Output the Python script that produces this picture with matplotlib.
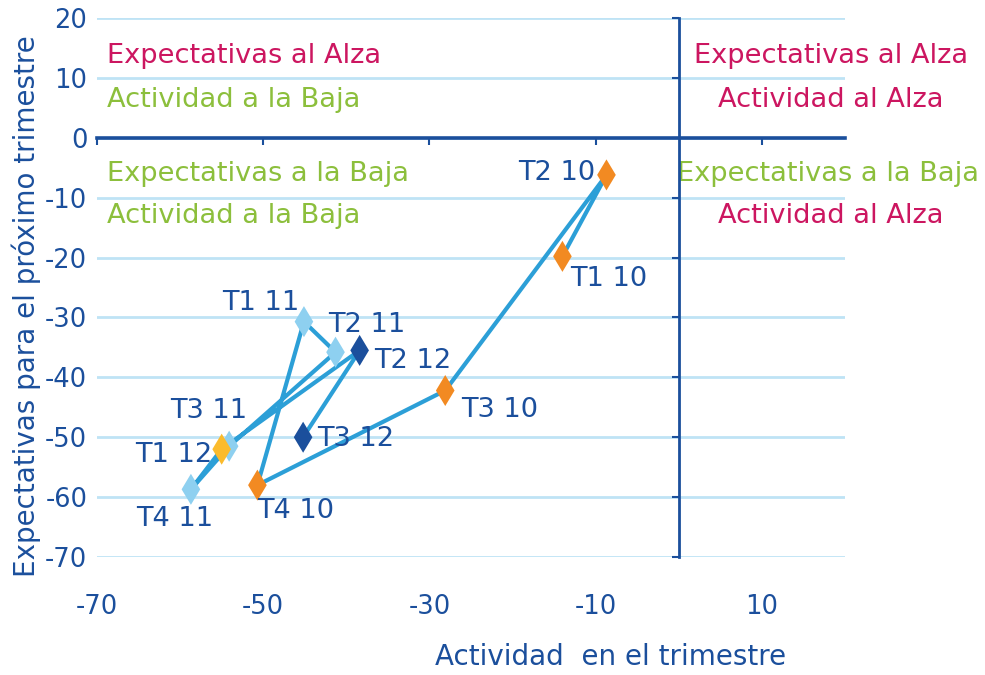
import matplotlib.pyplot as plt

plt.rcParams["font.family"] = ["DejaVu Sans"]
plt.rcParams["axes.unicode_minus"] = False

# datos
trimestres = ["T1 10", "T2 10", "T3 10", "T4 10", "T1 11", "T2 11",
              "T3 11", "T4 11", "T1 12", "T2 12", "T3 12"]
actividad = [-14.0, -8.7, -28.1, -50.7, -45.1, -41.3, -54.1, -58.7, -55.0, -38.4, -45.2]
expectativas = [-19.8, -6.2, -42.2, -58.0, -30.7, -35.8, -51.5, -58.7, -52.0, -35.5, -50.0]

x_ticks = [-70, -50, -30, -10, 10]
y_ticks = [20, 10, 0, -10, -20, -30, -40, -50, -60, -70]

# estilos
azul = "#1b4f9c"
linea = "#2c9fd7"
magenta = "#cc1660"
verde = "#8cbf3c"
col_punto = ["#f28a22"] * 4 + ["#8ed0f0"] * 4 + ["#fbbb2c", azul, azul]
# desplazamiento de etiquetas (pixeles) y alineacion
desp = [(8, -23, "left"), (-11, 2, "right"), (16, -19, "left"), (0, -26, "left"),
        (-5, 19, "right"), (-7, 27, "left"), (18, 35, "right"), (22, -30, "right"),
        (-9, -6, "right"), (14, -11, "left"), (14, -2, "left")]
fs = 19.6

fig = plt.figure(figsize=(9.85, 6.75), dpi=100)
pos = [97 / 985, 1 - 557 / 675, 748 / 985, 539 / 675]
ax = fig.add_axes(pos)
ax.set_xlim(-70, 20)
ax.set_ylim(-70, 20)

for s in ax.spines.values():
    s.set_visible(False)
ax.set_xticks(x_ticks)
ax.set_yticks(y_ticks)
ax.tick_params(axis="both", length=0, labelsize=18.5, colors=azul)
ax.tick_params(axis="x", pad=27)
ax.tick_params(axis="y", pad=7)
ax.yaxis.grid(True, color="#bfe3f5", lw=2)
ax.set_axisbelow(True)

# ejes cruzando en cero
ax2 = fig.add_axes(pos, sharex=ax, sharey=ax)
ax2.patch.set_visible(False)
ax2.spines["top"].set_visible(False)
ax2.spines["right"].set_visible(False)
ax2.spines["left"].set_position(("data", 0))
ax2.spines["bottom"].set_position(("data", 0))
ax2.spines["left"].set_color(azul)
ax2.spines["bottom"].set_color(azul)
ax2.spines["left"].set_linewidth(2)
ax2.spines["bottom"].set_linewidth(2.6)
ax2.tick_params(axis="both", direction="out", length=5, width=1.5, color=azul,
                labelleft=False, labelbottom=False)

ax.plot(actividad, expectativas, color=linea, lw=3, zorder=3)
ax.scatter(actividad, expectativas, marker="d", s=250, c=col_punto, zorder=4, linewidths=0)

for t, xv, yv, (dx, dy, ha) in zip(trimestres, actividad, expectativas, desp):
    ax.annotate(t, (xv, yv), xytext=(dx, dy), textcoords="offset pixels",
                ha=ha, va="center", fontsize=fs, color=azul, zorder=5)

# cuadrantes
ax.text(-68.8, 13.7, "Expectativas al Alza", color=magenta, fontsize=fs, va="center")
ax.text(-68.8, 6.3, "Actividad a la Baja", color=verde, fontsize=fs, va="center")
ax.text(-68.8, -6.0, "Expectativas a la Baja", color=verde, fontsize=fs, va="center")
ax.text(-68.8, -13.0, "Actividad a la Baja", color=verde, fontsize=fs, va="center")
ax.text(18.3, 13.7, "Expectativas al Alza", color=magenta, fontsize=fs, va="center",
        ha="center", clip_on=False)
ax.text(18.3, 6.3, "Actividad al Alza", color=magenta, fontsize=fs, va="center",
        ha="center", clip_on=False)
ax.text(17.9, -6.0, "Expectativas a la Baja", color=verde, fontsize=fs, va="center",
        ha="center", clip_on=False)
ax.text(18.3, -13.0, "Actividad al Alza", color=magenta, fontsize=fs, va="center",
        ha="center", clip_on=False)

ax.set_xlabel("Actividad  en el trimestre", fontsize=20, color=azul)
ax.xaxis.set_label_coords(0.686, -0.16)
ax.set_ylabel("Expectativas para el próximo trimestre", fontsize=20, color=azul)
ax.yaxis.set_label_coords(-0.075, 0.465)

fig.savefig("out.png", dpi=100)
